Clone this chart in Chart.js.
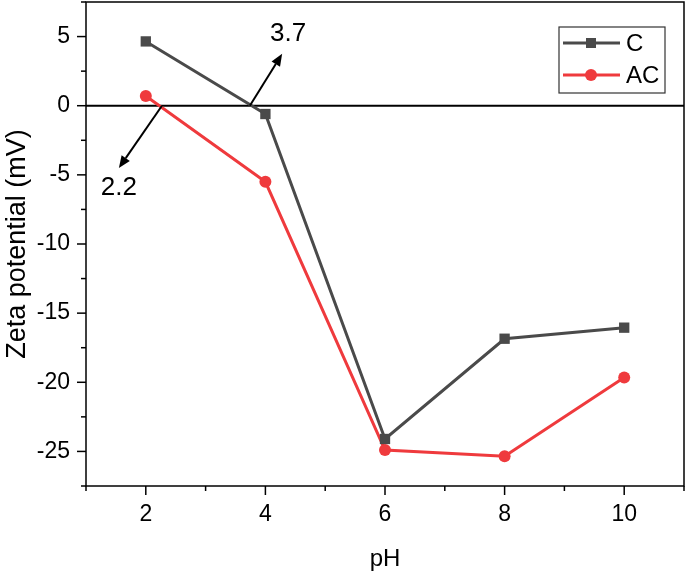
<!DOCTYPE html>
<html>
<head>
<meta charset="utf-8">
<script src="https://cdn.jsdelivr.net/npm/chart.js@4.4.0/dist/chart.umd.min.js"></script>
<style>
    html, body { margin: 0; padding: 0; background: #fff; }
    #wrap { width: 685px; height: 574px; }
</style>
</head>
<body>
<div id="wrap"><canvas id="zetaChart"></canvas></div>
<script>
const phValues = [2, 4, 6, 8, 10];
const zetaC = [4.65, -0.6, -24.1, -16.85, -16.05];
const zetaAC = [0.7, -5.5, -24.9, -25.35, -19.65];

// arrow annotations in data units: from (x0,y0) to (x1,y1), label at (lx,ly)
const arrowLabels = ['3.7', '2.2'];
const arrowFrom = [[3.74, 0], [2.27, 0]];
const arrowTo = [[4.28, 3.75], [1.55, -4.5]];
const arrowTextAt = [[4.38, 5.2], [1.55, -5.95]];

const fontName = '"Liberation Sans", Arial, sans-serif';
const colorC = '#4a4a4a';
const colorAC = '#ef3a3d';

function drawArrow(ctx, x0, y0, x1, y1) {
    const ang = Math.atan2(y1 - y0, x1 - x0);
    const headLen = 12, headW = 5;
    const bx = x1 - headLen * Math.cos(ang);
    const by = y1 - headLen * Math.sin(ang);
    ctx.beginPath();
    ctx.moveTo(x0, y0);
    ctx.lineTo(bx, by);
    ctx.stroke();
    ctx.beginPath();
    ctx.moveTo(x1, y1);
    ctx.lineTo(bx + headW * Math.sin(ang), by - headW * Math.cos(ang));
    ctx.lineTo(bx - headW * Math.sin(ang), by + headW * Math.cos(ang));
    ctx.closePath();
    ctx.fill();
}

const framePlugin = {
    id: 'frame',
    beforeDatasetsDraw(chart) {
        const { ctx, chartArea, scales } = chart;
        const y0 = scales.y.getPixelForValue(0);
        ctx.save();
        ctx.strokeStyle = '#000';
        ctx.lineWidth = 2;
        ctx.beginPath();
        ctx.moveTo(chartArea.left, y0);
        ctx.lineTo(chartArea.right, y0);
        ctx.stroke();
        ctx.restore();
    },
    afterDatasetsDraw(chart) {
        const { ctx, chartArea, scales } = chart;
        const xs = scales.x, ys = scales.y;
        ctx.save();

        // arrows and their labels
        ctx.strokeStyle = '#000';
        ctx.fillStyle = '#000';
        ctx.lineWidth = 2;
        arrowLabels.forEach((label, i) => {
            drawArrow(ctx,
                xs.getPixelForValue(arrowFrom[i][0]), ys.getPixelForValue(arrowFrom[i][1]),
                xs.getPixelForValue(arrowTo[i][0]), ys.getPixelForValue(arrowTo[i][1]));
            ctx.font = '26px ' + fontName;
            ctx.textAlign = 'center';
            ctx.textBaseline = 'middle';
            ctx.fillText(label, xs.getPixelForValue(arrowTextAt[i][0]), ys.getPixelForValue(arrowTextAt[i][1]));
        });

        // box around the plot
        ctx.lineWidth = 1.5;
        ctx.strokeRect(chartArea.left, chartArea.top, chartArea.right - chartArea.left, chartArea.bottom - chartArea.top);

        // tick marks, outward, major and minor
        for (let v = xs.min; v <= xs.max + 0.001; v += 1) {
            const px = xs.getPixelForValue(v);
            const len = v % 2 === 0 ? 9 : 5;
            ctx.beginPath();
            ctx.moveTo(px, chartArea.bottom);
            ctx.lineTo(px, chartArea.bottom + len);
            ctx.stroke();
        }
        for (let v = ys.min; v <= ys.max + 0.001; v += 2.5) {
            const py = ys.getPixelForValue(v);
            const len = Math.abs(v % 5) < 0.001 ? 9 : 5;
            ctx.beginPath();
            ctx.moveTo(chartArea.left, py);
            ctx.lineTo(chartArea.left - len, py);
            ctx.stroke();
        }

        // legend box
        const lx = 559, ly = 27, lw = 106, lh = 66;
        ctx.fillStyle = '#fff';
        ctx.fillRect(lx, ly, lw, lh);
        ctx.strokeStyle = '#333';
        ctx.lineWidth = 1.2;
        ctx.strokeRect(lx, ly, lw, lh);
        chart.data.datasets.forEach((ds, i) => {
            const cy = ly + 16 + i * 32;
            ctx.strokeStyle = ds.borderColor;
            ctx.lineWidth = 3;
            ctx.beginPath();
            ctx.moveTo(lx + 4, cy);
            ctx.lineTo(lx + 61, cy);
            ctx.stroke();
            ctx.fillStyle = ds.backgroundColor;
            if (ds.pointStyle === 'rect') {
                ctx.fillRect(lx + 32 - 5, cy - 5, 10, 10);
            } else {
                ctx.beginPath();
                ctx.arc(lx + 32, cy, 6, 0, Math.PI * 2);
                ctx.fill();
            }
            ctx.fillStyle = '#000';
            ctx.font = '24px ' + fontName;
            ctx.textAlign = 'left';
            ctx.textBaseline = 'middle';
            ctx.fillText(ds.label, lx + 67, cy + 1);
        });
        ctx.restore();
    }
};

const ctx = document.getElementById('zetaChart').getContext('2d');
new Chart(ctx, {
    type: 'line',
    data: {
        datasets: [
            {
                label: 'C',
                data: phValues.map((x, i) => ({ x, y: zetaC[i] })),
                borderColor: colorC,
                backgroundColor: colorC,
                borderWidth: 3,
                pointStyle: 'rect',
                pointRadius: 7.3,
                pointBorderWidth: 0,
                tension: 0
            },
            {
                label: 'AC',
                data: phValues.map((x, i) => ({ x, y: zetaAC[i] })),
                borderColor: colorAC,
                backgroundColor: colorAC,
                borderWidth: 3,
                pointStyle: 'circle',
                pointRadius: 6,
                pointBorderWidth: 0,
                tension: 0
            }
        ]
    },
    options: {
        responsive: true,
        maintainAspectRatio: false,
        animation: false,
        layout: { autoPadding: false, padding: { top: 2, right: 1, left: 0, bottom: 0 } },
        plugins: {
            legend: { display: false },
            tooltip: { enabled: false }
        },
        scales: {
            x: {
                type: 'linear',
                min: 1,
                max: 11,
                afterFit(scale) {
                    scale.height = 88;
                    scale.paddingLeft = 0;
                    scale.paddingRight = 0;
                },
                grid: { display: false, drawTicks: false },
                border: { display: false },
                ticks: {
                    stepSize: 1,
                    padding: 15,
                    color: '#000',
                    font: { family: fontName, size: 23 },
                    callback: v => (v % 2 === 0 ? String(v) : '')
                },
                title: {
                    display: true,
                    text: 'pH',
                    color: '#000',
                    font: { family: fontName, size: 24 },
                    padding: { top: 4, bottom: 0 }
                }
            },
            y: {
                min: -27.5,
                max: 7.5,
                afterFit(scale) {
                    scale.width = 86;
                    scale.paddingTop = 0;
                    scale.paddingBottom = 0;
                },
                grid: { display: false, drawTicks: false },
                border: { display: false },
                ticks: {
                    stepSize: 2.5,
                    padding: 16,
                    color: '#000',
                    font: { family: fontName, size: 23 },
                    callback: v => (Math.abs(v % 5) < 0.001 ? String(v) : '')
                },
                title: {
                    display: true,
                    text: 'Zeta potential (mV)',
                    color: '#000',
                    font: { family: fontName, size: 27 },
                    padding: { top: 1, bottom: 2 }
                }
            }
        }
    },
    plugins: [framePlugin]
});
</script>
</body>
</html>
